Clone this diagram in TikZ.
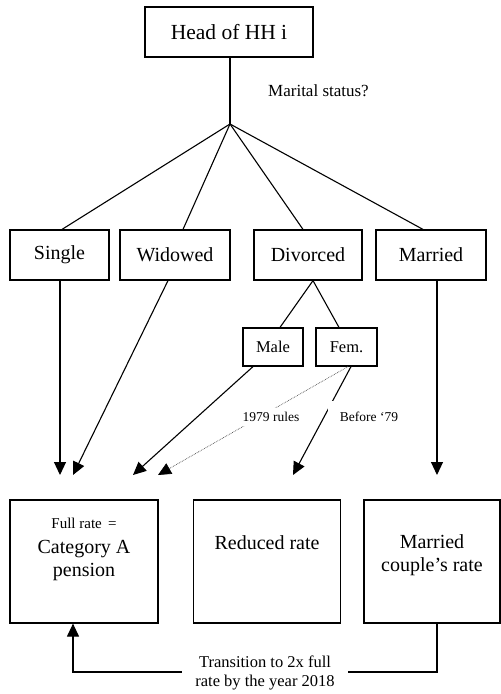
\documentclass[tikz,border=0pt]{standalone}
\usepackage{fontspec}
\setmainfont{Liberation Serif}
\usetikzlibrary{arrows.meta}
\begin{document}
\begin{tikzpicture}[x=1pt,y=-1pt,
  box/.style={draw,line width=1.2pt,inner sep=0pt,font=\fontsize{20}{24}\selectfont},
  smallbox/.style={draw,line width=1.2pt,inner sep=0pt,font=\fontsize{16.5}{19}\selectfont},
  link/.style={line width=1.1pt},
  arr/.style={line width=1.1pt,-{Triangle[length=13pt,width=12pt]}},
  dotarr/.style={line width=0.7pt,densely dotted,black!70,-{Triangle[length=13pt,width=12pt,color=black,fill=black]}},
  lbl/.style={font=\fontsize{13.5}{16}\selectfont,inner sep=1pt},
  big/.style={font=\fontsize{20}{24}\selectfont,align=center}]
\path[use as bounding box,fill=white] (0,0) rectangle (501,694);
% top
\node[box,minimum width=168pt,minimum height=50pt,font=\fontsize{21.5}{25}\selectfont] (head) at (229,32) {Head of HH i};
\coordinate (br) at (230,124);
\node[lbl,font=\fontsize{17}{20}\selectfont] (ms) at (318.5,91) {Marital status?};
% row 2
\node[box,minimum width=99pt,minimum height=50pt] (single) at (59.5,255) {Single};
\node[box,minimum width=110pt,minimum height=50pt] (widowed) at (175,255) {Widowed};
\node[box,minimum width=108pt,minimum height=50pt] (divorced) at (308,255) {Divorced};
\node[box,minimum width=110pt,minimum height=50pt] (married) at (431,255) {Married};
\node[smallbox,minimum width=60pt,minimum height=38pt] (male) at (273,347) {Male};
\node[smallbox,minimum width=61pt,minimum height=38pt] (fem) at (346.5,347) {Fem.};
% bottom boxes
\node[draw,line width=1.2pt,minimum width=148pt,minimum height=123pt,inner sep=0pt] (full) at (84,561.5) {};
\node[draw,line width=1.2pt,minimum width=147pt,minimum height=123pt,inner sep=0pt] (reduced) at (267,561.5) {};
\node[draw,line width=1.2pt,minimum width=136pt,minimum height=123pt,inner sep=0pt] (mc) at (432,561.5) {};
\node[font=\fontsize{15}{18}\selectfont] (fulltxt) at (84,523) {Full rate \,=};
\node[big] (cattxt) at (84,560) {Category A\\[-1pt]pension};
\node[big] (redtxt) at (267,543) {Reduced rate};
\node[big] (mctxt) at (432,555) {Married\\[-1pt]couple’s rate};
% arrow tips
\coordinate (t1) at (60,475);
\coordinate (t2) at (73,475);
\coordinate (t3) at (133,475);
\coordinate (t4) at (158,475);
\coordinate (t5) at (293,475);
\coordinate (t6) at (437,475);
% tree lines
\draw[link] (head.south -| br) -- (br);
\draw[link] (br) -- ([xshift=2.5pt]single.north);
\draw[link] (br) -- ([xshift=8pt]widowed.north);
\draw[link] (br) -- ([xshift=-5pt]divorced.north);
\draw[link] (br) -- ([xshift=-8pt]married.north);
\draw[link] ([xshift=5pt]divorced.south) -- ([xshift=7pt]male.north);
\draw[link] ([xshift=5pt]divorced.south) -- ([xshift=-7.5pt]fem.north);
% arrows
\draw[arr] ([xshift=0.5pt]single.south) -- (t1);
\draw[arr] ([xshift=-7pt]widowed.south) -- (t2);
\draw[arr] ([xshift=-20pt]male.south) -- (t3);
\draw[dotarr] ([xshift=1.5pt]fem.south) -- (t4);
\draw[arr] ([xshift=4.5pt]fem.south) -- (t5);
\draw[arr] ([xshift=6pt]married.south) -- (t6);
\node[lbl,fill=white,inner ysep=4pt,inner xsep=2pt] (r79) at (271,417) {1979 rules};
\node[lbl,fill=white,inner ysep=11pt,inner xsep=12pt] (b79) at (369,417) {Before ‘79};
% transition
\coordinate (tc) at (265,672);
\draw[arr] ([xshift=5pt]mc.south) |- (tc) -| ([xshift=-11pt]full.south);
\node[fill=white,inner xsep=13pt,inner ysep=2pt,align=center,font=\fontsize{16.5}{19.5}\selectfont] (trans) at (265,673) {Transition to 2x full\\rate by the year 2018};
\end{tikzpicture}
\end{document}
